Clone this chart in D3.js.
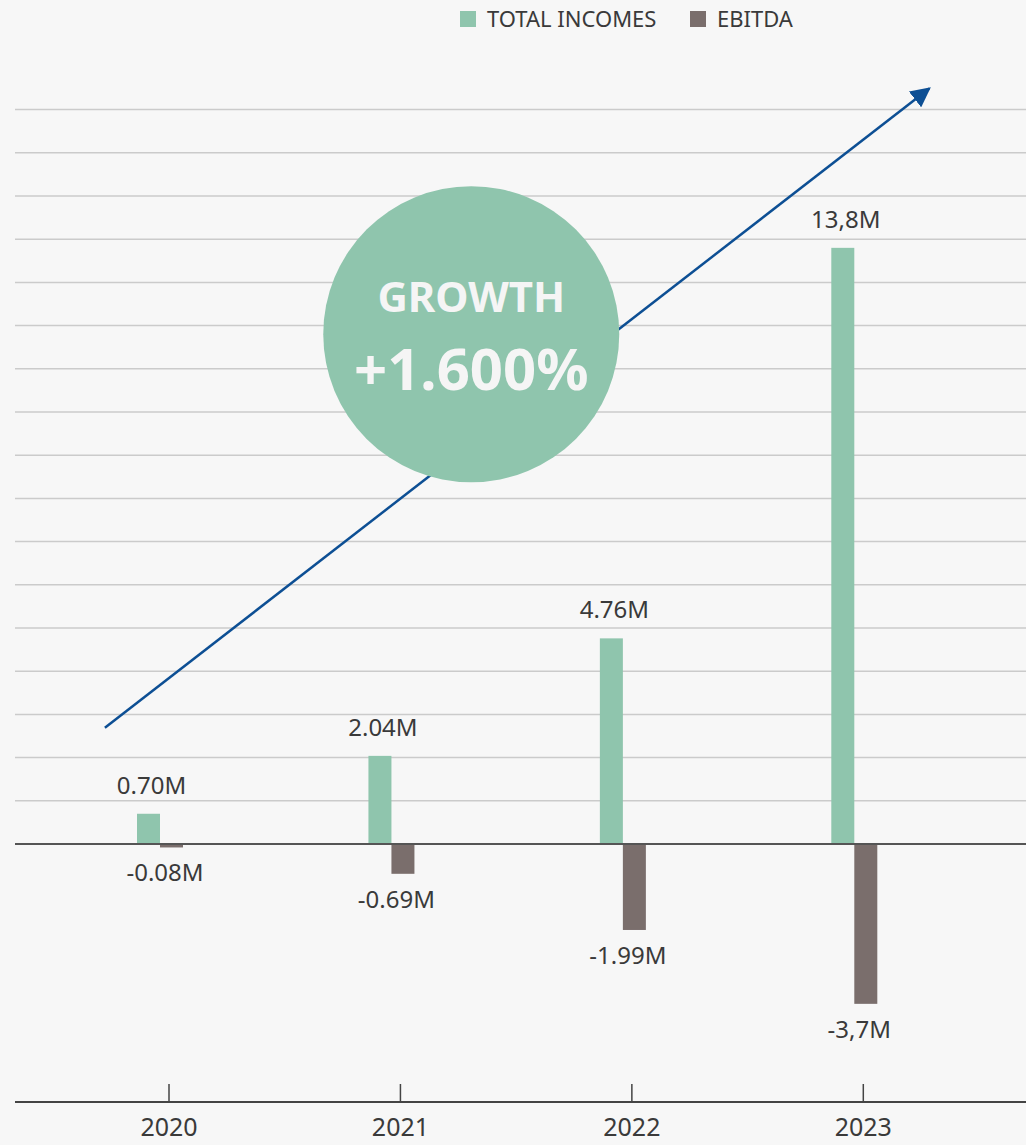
<!DOCTYPE html>
<html>
<head>
<meta charset="utf-8">
<script src="https://cdn.jsdelivr.net/npm/d3@7"></script>
<style>
  body { margin:0; background:#f7f7f7; }
  svg { display:block; font-family:"Noto Sans", sans-serif; }
</style>
</head>
<body>
<div id="chart"></div>
<script>
const years = ["2020", "2021", "2022", "2023"];
const incomes = [0.70, 2.04, 4.76, 13.8];
const ebitda = [-0.08, -0.69, -1.99, -3.7];
const incomeLabels = ["0.70M", "2.04M", "4.76M", "13,8M"];
const ebitdaLabels = ["-0.08M", "-0.69M", "-1.99M", "-3,7M"];
const seriesNames = ["TOTAL INCOMES", "EBITDA"];
const gridValues = d3.range(0, 18);

const width = 1026, height = 1145;
const green = "#8fc5ad", brown = "#7a6e6c", ink = "#3a3a3a";

const svg = d3.select("#chart").append("svg")
  .attr("width", width).attr("height", height);

svg.append("rect").attr("width", width).attr("height", height).attr("fill", "#f7f7f7");

const x = d3.scalePoint().domain(years).range([169, 863.3]);
const xi = d3.scaleLinear().domain([0, 3]).range([169, 863.3]);   // index scale for annotations
const y = d3.scaleLinear().domain([0, 17]).range([844, 109.6]);
const barW = 23, pairShift = -9;

// gridlines
svg.append("g").selectAll("line")
  .data(gridValues.filter(v => v > 0)).enter().append("line")
  .attr("x1", 15).attr("x2", width)
  .attr("y1", d => y(d)).attr("y2", d => y(d))
  .attr("stroke", "#cbcbcb").attr("stroke-width", 1.5);

// arrow
const defs = svg.append("defs");
defs.append("marker").attr("id", "head")
  .attr("viewBox", "0 0 10 10").attr("refX", 9).attr("refY", 5)
  .attr("markerWidth", 20).attr("markerHeight", 20).attr("orient", "auto")
  .attr("markerUnits", "userSpaceOnUse")
  .append("path").attr("d", "M0,0 L10,5 L0,10 Z").attr("fill", "#0d4f94");

svg.append("line")
  .attr("x1", xi(-0.277)).attr("y1", y(2.69))
  .attr("x2", xi(3.285)).attr("y2", y(17.49))
  .attr("stroke", "#0d4f94").attr("stroke-width", 2.5)
  .attr("marker-end", "url(#head)");

// growth bubble
const cx = xi(1.306), cy = y(11.8);
svg.append("circle").attr("cx", cx).attr("cy", cy).attr("r", 148).attr("fill", green);
svg.append("text").attr("x", cx).attr("y", cy - 22)
  .attr("text-anchor", "middle").attr("fill", "#f5f5f5")
  .attr("font-size", 42).attr("font-weight", 700).text("GROWTH");
svg.append("text").attr("x", cx).attr("y", cy + 56)
  .attr("text-anchor", "middle").attr("fill", "#f5f5f5")
  .attr("font-size", 58).attr("font-weight", 700).text("+1.600%");

// bars
svg.append("g").selectAll("rect")
  .data(years).enter().append("rect")
  .attr("x", (d) => x(d) + pairShift - barW)
  .attr("y", (d, i) => y(incomes[i]))
  .attr("width", barW)
  .attr("height", (d, i) => y(0) - y(incomes[i]))
  .attr("fill", green);

svg.append("g").selectAll("rect")
  .data(years).enter().append("rect")
  .attr("x", (d) => x(d) + pairShift)
  .attr("y", y(0))
  .attr("width", barW)
  .attr("height", (d, i) => y(ebitda[i]) - y(0))
  .attr("fill", brown);

// zero line
svg.append("line").attr("x1", 15).attr("x2", width)
  .attr("y1", y(0)).attr("y2", y(0))
  .attr("stroke", "#555").attr("stroke-width", 2);

// value labels
svg.append("g").selectAll("text")
  .data(years).enter().append("text")
  .attr("x", d => x(d) + pairShift - barW / 2 + 3)
  .attr("y", (d, i) => y(incomes[i]) - 20)
  .attr("text-anchor", "middle").attr("font-size", 24).attr("fill", ink)
  .text((d, i) => incomeLabels[i]);

svg.append("g").selectAll("text")
  .data(years).enter().append("text")
  .attr("x", d => x(d) + pairShift + 5)
  .attr("y", (d, i) => y(ebitda[i]) + 34)
  .attr("text-anchor", "middle").attr("font-size", 24).attr("fill", ink)
  .text((d, i) => ebitdaLabels[i]);

// x axis
const axisY = 1102;
svg.append("line").attr("x1", 15).attr("x2", width)
  .attr("y1", axisY).attr("y2", axisY)
  .attr("stroke", "#444").attr("stroke-width", 2);
const ticks = svg.append("g").selectAll("g").data(years).enter().append("g")
  .attr("transform", d => `translate(${x(d)},${axisY})`);
ticks.append("line").attr("y1", -18).attr("y2", 0).attr("stroke", "#444").attr("stroke-width", 1.5);
ticks.append("text").attr("y", 34).attr("text-anchor", "middle")
  .attr("font-size", 25).attr("fill", ink).text(d => d);

// legend
const legend = svg.append("g").selectAll("g")
  .data(seriesNames).enter().append("g")
  .attr("transform", (d, i) => `translate(${[460, 690][i]},11)`);
legend.append("rect").attr("width", 16).attr("height", 16)
  .attr("fill", (d, i) => [green, brown][i]);
legend.append("text").attr("x", 27).attr("y", 15.5)
  .attr("font-size", 22).attr("fill", ink).text(d => d);
</script>
</body>
</html>
